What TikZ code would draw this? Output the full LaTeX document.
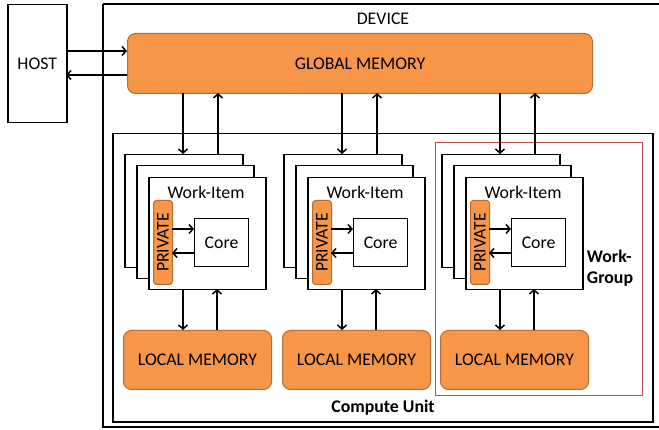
\documentclass[tikz,border=0pt]{standalone}
\usepackage{fontspec}
\setmainfont{Carlito}
\usetikzlibrary{arrows.meta}
\definecolor{orfill}{HTML}{F79646}
\definecolor{ordraw}{HTML}{B66D31}
\definecolor{wgred}{HTML}{C0504D}
\begin{document}
\begin{tikzpicture}[x=1pt,y=-1pt,
  box/.style={draw=black,line width=1.5pt,fill=white},
  mem/.style={draw=ordraw,line width=1pt,fill=orfill,rounded corners=8pt},
  arr/.style={line width=1.5pt,-{Straight Barb[length=4pt,width=9pt,line width=1.5pt]}},
  txt/.style={font=\fontsize{17.8}{21}\selectfont,inner sep=0pt},
  btxt/.style={font=\fontsize{17.8}{21}\selectfont\bfseries,inner sep=0pt,align=left}]
\useasboundingbox (0,0) rectangle (659,430);
% device
\draw[line width=1.5pt] (103,4) -- (662,4);
\draw[line width=1.5pt] (662,427) -- (103,427) -- (103,4);
\node[txt] (devlbl) at (383,19) {DEVICE};
% host
\node[box,minimum width=59pt,minimum height=118pt,anchor=north west,inner sep=0pt] (host) at (7,4) {};
\node[txt] at (host.center) {HOST};
% global memory
\node[mem,minimum width=465pt,minimum height=60pt,anchor=north west,inner sep=0pt] (glob) at (127,33) {};
\node[txt] at (glob.center) {GLOBAL MEMORY};
\coordinate (h1) at (66,51); \coordinate (g1) at (127,51);
\coordinate (h2) at (66,75); \coordinate (g2) at (127,75);
\draw[arr] (h1) -- (g1);
\draw[arr] (g2) -- (h2);
% compute unit
\node[box,minimum width=540pt,minimum height=288pt,anchor=north west,inner sep=0pt] (cu) at (112,133) {};
\node[btxt] (culbl) at (383,408) {Compute Unit};
% work group
\node[draw=wgred,line width=1.2pt,minimum width=207pt,minimum height=253pt,anchor=north west,inner sep=0pt] (wg) at (435,142) {};
\node[btxt] (wglbl) at (610,268) {Work-\\Group};
% groups
\foreach \i/\ox in {1/0,2/159,3/317}{
  \begin{scope}[xshift=\ox pt]
    \node[box,minimum width=118pt,minimum height=113pt,anchor=north west,inner sep=0pt] (b\i) at (124,154) {};
    \node[box,minimum width=117pt,minimum height=113pt,anchor=north west,inner sep=0pt] (m\i) at (136,165) {};
    \node[box,minimum width=117pt,minimum height=112pt,anchor=north west,inner sep=0pt] (f\i) at (148,177) {};
    \node[txt] (wi\i) at (206,192) {Work-Item};
    \node[mem,rounded corners=3pt,minimum width=19pt,minimum height=84pt,anchor=north west,inner sep=0pt] (p\i) at (153,200) {};
    \node[txt,rotate=90] at (p\i.center) {PRIVATE};
    \node[box,line width=1.2pt,minimum width=54pt,minimum height=48pt,anchor=north west,inner sep=0pt] (c\i) at (194,218) {};
    \node[txt] at (c\i.center) {Core};
    \coordinate (pa\i) at (172,229); \coordinate (ca\i) at (194,229);
    \coordinate (pb\i) at (172,253); \coordinate (cb\i) at (194,253);
    \draw[arr,line width=1.2pt] (pa\i) -- (ca\i);
    \draw[arr,line width=1.2pt] (cb\i) -- (pb\i);
    \node[mem,minimum width=148pt,minimum height=59pt,anchor=north west,inner sep=0pt] (l\i) at (123,330) {};
    \node[txt] at (l\i.center) {LOCAL MEMORY};
    \draw[arr] (183,93) -- (b\i.north -| 183,0);
    \draw[arr] (b\i.north -| 218,0) -- (218,93);
    \draw[arr] (183,289) -- (183,330);
    \draw[arr] (217,330) -- (217,289);
  \end{scope}
}
\end{tikzpicture}
\end{document}
